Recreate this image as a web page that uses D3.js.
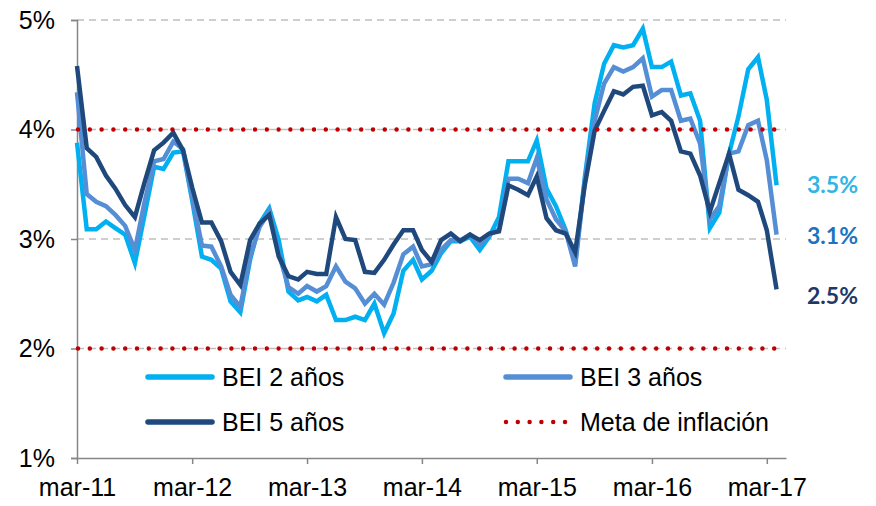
<!DOCTYPE html>
<html>
<head>
<meta charset="utf-8">
<script src="https://cdn.jsdelivr.net/npm/d3@7"></script>
<style>
  body { margin: 0; background: #fff; }
  text { font-family: "Liberation Sans", Arial, sans-serif; }
</style>
</head>
<body>
<svg class="bei-ch"></svg>
<script>
"use strict";

// monthly, mar-11 .. apr-17
var startMonth = new Date(2011, 2, 1);

var bei2 = [3.88,3.09,3.09,3.16,3.10,3.04,2.78,3.21,3.66,3.64,3.79,3.80,
  3.35,2.84,2.81,2.73,2.43,2.33,2.81,3.14,3.28,2.99,2.52,2.44,
  2.47,2.43,2.49,2.26,2.26,2.29,2.26,2.41,2.14,2.32,2.71,2.81,
  2.63,2.71,2.87,2.98,2.98,3.02,2.90,3.02,3.20,3.71,3.71,3.71,
  3.90,3.46,3.30,3.08,2.78,3.57,4.24,4.60,4.77,4.75,4.77,4.92,
  4.57,4.57,4.62,4.31,4.33,4.08,3.10,3.24,3.78,4.12,4.55,4.66,
  4.27,3.49];

var bei3 = [4.34,3.41,3.34,3.30,3.22,3.12,2.90,3.33,3.71,3.73,3.89,3.82,
  3.38,2.94,2.93,2.75,2.49,2.38,2.84,3.11,3.25,2.87,2.56,2.50,
  2.57,2.52,2.57,2.75,2.61,2.55,2.41,2.50,2.40,2.60,2.86,2.93,
  2.75,2.77,2.90,2.99,2.99,3.04,2.95,3.04,3.09,3.55,3.55,3.51,
  3.74,3.36,3.18,3.07,2.75,3.54,4.08,4.42,4.57,4.53,4.57,4.65,
  4.30,4.36,4.36,4.08,4.10,3.87,3.18,3.30,3.78,3.80,4.04,4.08,
  3.72,3.04];

var bei5 = [4.58,3.83,3.75,3.58,3.46,3.31,3.20,3.51,3.81,3.88,3.97,3.81,
  3.47,3.15,3.15,2.98,2.70,2.58,2.99,3.14,3.22,2.84,2.66,2.63,
  2.70,2.68,2.68,3.20,3.00,2.99,2.70,2.69,2.81,2.95,3.08,3.08,
  2.90,2.79,2.99,3.05,2.98,3.04,2.99,3.05,3.07,3.49,3.45,3.40,
  3.57,3.19,3.08,3.05,2.88,3.50,3.99,4.17,4.35,4.32,4.39,4.40,
  4.13,4.16,4.08,3.80,3.78,3.58,3.25,3.51,3.78,3.45,3.40,3.34,
  3.08,2.54];

var metaBand = [2, 4];
var yTicks = [1, 2, 3, 4, 5];
var yearTicks = ['mar-11','mar-12','mar-13','mar-14','mar-15','mar-16','mar-17'];
var seriesNames = ['BEI 2 años', 'BEI 3 años', 'BEI 5 años'];
var endLabels = ['3.5%', '3.1%', '2.5%'];

var lineColors = ['#00B0F0', '#558ED5', '#1F497D'];
var labelColors = ['#2FB5E6', '#1C74BF', '#1F3864'];
var labelNudge = [0, 1, 7];

var W = 876, H = 506;
var svg = d3.select('.bei-ch')
  .attr('width', W)
  .attr('height', H);

var dates = d3.timeMonth.range(startMonth, d3.timeMonth.offset(startMonth, bei2.length));

var x = d3.scaleTime()
  .domain([startMonth, new Date(2017, 4, 1)])
  .range([77, 786]);

var y = d3.scaleLinear()
  .domain([1, 5])
  .range([458, 20]);

// grid
svg.append('g').selectAll('line')
  .data(yTicks.slice(1))
  .enter().append('line')
    .attr('x1', 77).attr('x2', 786)
    .attr('y1', function(d){return y(d)})
    .attr('y2', function(d){return y(d)})
    .style('stroke', '#BFBFBF')
    .style('stroke-width', 1.5)
    .style('stroke-dasharray', '7,5');

// y axis
var yAxis = d3.axisLeft(y)
  .tickValues(yTicks)
  .tickSize(6)
  .tickFormat(function(d){return d + '%'});

var gy = svg.append('g')
  .attr('transform', 'translate(77,0)')
  .call(yAxis);
gy.select('.domain').style('stroke', '#868686').style('stroke-width', 1.5);
gy.selectAll('.tick line').style('stroke', '#868686').style('stroke-width', 1.5);
gy.selectAll('.tick text')
  .attr('x', -22)
  .style('font-size', '25px')
  .style('fill', '#000');

// x axis
var yearDates = yearTicks.map(function(t, i){return d3.timeYear.offset(startMonth, i)});
var xAxis = d3.axisBottom(x)
  .tickValues(yearDates)
  .tickSize(6)
  .tickSizeOuter(0)
  .tickFormat(function(d, i){return yearTicks[i]});

var gx = svg.append('g')
  .attr('transform', 'translate(0,458)')
  .call(xAxis);
gx.select('.domain').style('stroke', '#868686').style('stroke-width', 1.5);
gx.selectAll('.tick line').style('stroke', '#868686').style('stroke-width', 1.5);
gx.selectAll('.tick text')
  .attr('y', 20)
  .style('font-size', '25px')
  .style('fill', '#000');

// series
var line = d3.line()
  .x(function(d){return x(d.date)})
  .y(function(d){return y(d.value)});

var series = [bei2, bei3, bei5].map(function(vals, k){
  return {
    name: seriesNames[k],
    color: lineColors[k],
    values: vals.map(function(v, i){return {date: dates[i], value: v}})
  };
});

svg.append('g').selectAll('path')
  .data(series)
  .enter().append('path')
    .attr('d', function(d){return line(d.values)})
    .style('fill', 'none')
    .style('stroke', function(d){return d.color})
    .style('stroke-width', 4.5)
    .style('stroke-linejoin', 'miter');

// meta de inflacion
svg.append('g').selectAll('line')
  .data(metaBand)
  .enter().append('line')
    .attr('x1', 78).attr('x2', 778)
    .attr('y1', function(d){return y(d)})
    .attr('y2', function(d){return y(d)})
    .style('stroke', '#C00000')
    .style('stroke-width', 4.5)
    .style('stroke-linecap', 'round')
    .style('stroke-dasharray', '0,11.8');

// end labels
svg.append('g').selectAll('text')
  .data(series)
  .enter().append('text')
    .attr('x', 807)
    .attr('y', function(d, i){return y(d.values[d.values.length - 1].value) + 8 + labelNudge[i]})
    .text(function(d, i){return endLabels[i]})
    .style('font-family', 'Lato, "Open Sans", sans-serif')
    .style('font-weight', 'bold')
    .style('font-size', '23px')
    .style('fill', function(d, i){return labelColors[i]});

// legend
var legendItems = [
  {name: seriesNames[0], color: lineColors[0], x: 148, y: 377},
  {name: seriesNames[1], color: lineColors[1], x: 506, y: 377},
  {name: seriesNames[2], color: lineColors[2], x: 148, y: 422},
  {name: 'Meta de inflación', color: '#C00000', x: 506, y: 422, dotted: true}
];

var legend = svg.append('g').selectAll('g')
  .data(legendItems)
  .enter().append('g')
    .attr('transform', function(d){return 'translate(' + d.x + ',' + d.y + ')'});

legend.append('line')
  .attr('x1', 0)
  .attr('x2', 64)
  .style('stroke', function(d){return d.color})
  .style('stroke-width', function(d){return d.dotted ? 4.5 : 5.5})
  .style('stroke-linecap', 'round')
  .style('stroke-dasharray', function(d){return d.dotted ? '0,11.8' : null});

legend.append('text')
  .attr('x', 74)
  .attr('y', 9)
  .text(function(d){return d.name})
  .style('font-size', '25px')
  .style('fill', '#000');
</script>
</body>
</html>
